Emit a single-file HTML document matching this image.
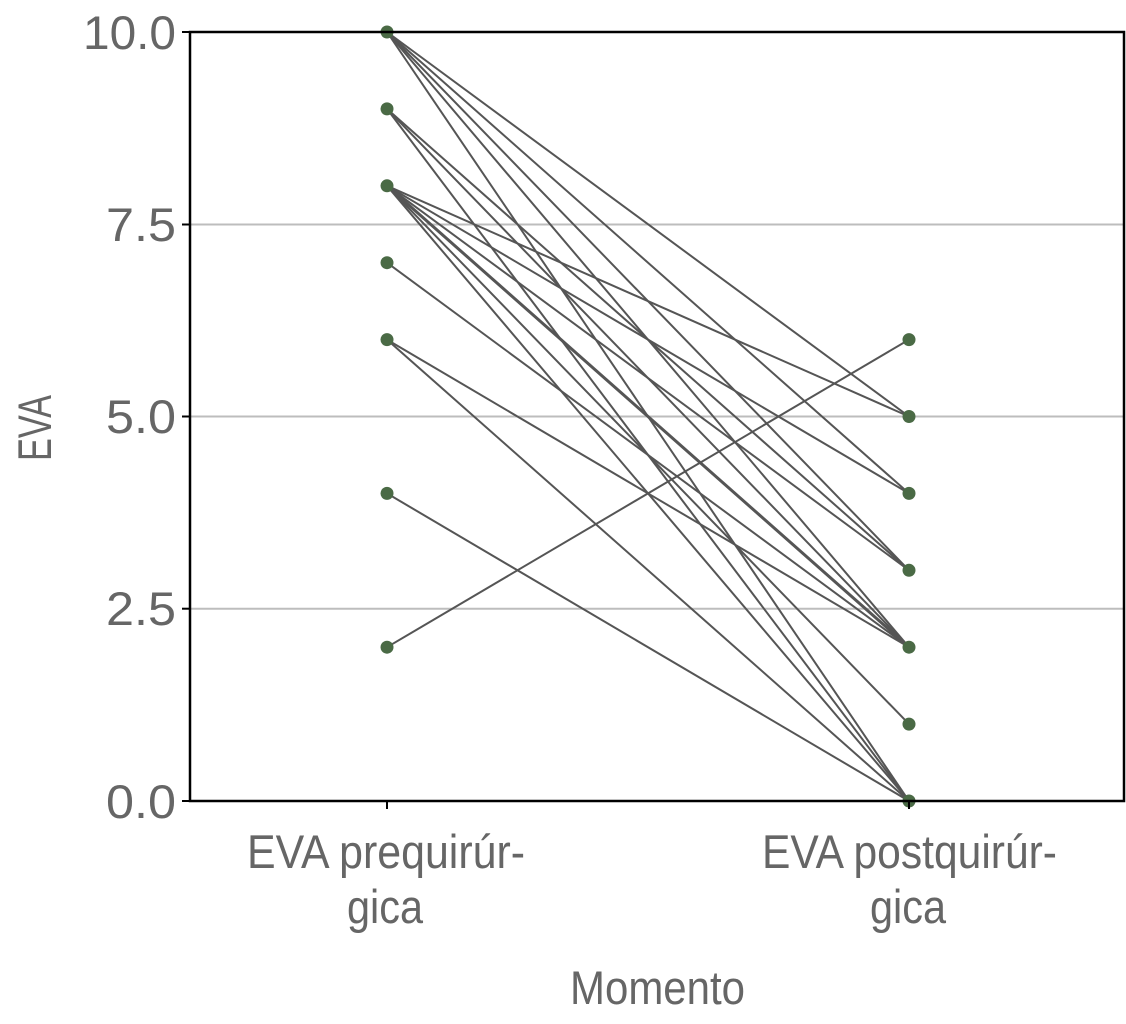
<!DOCTYPE html>
<html><head><meta charset="utf-8"><style>body{margin:0;background:#fff}svg{display:block}</style></head>
<body>
<svg width="1126" height="1024" xmlns="http://www.w3.org/2000/svg" font-family="'Liberation Sans Narrow','Liberation Sans',sans-serif" fill="#666">
<g stroke="#bdbdbd" stroke-width="2">
<line x1="190" x2="1124" y1="224.5" y2="224.5"/>
<line x1="190" x2="1124" y1="416.5" y2="416.5"/>
<line x1="190" x2="1124" y1="608.7" y2="608.7"/>
</g>
<g stroke="#555" stroke-width="2">
<line x1="387" y1="32" x2="909" y2="416.5"/>
<line x1="387" y1="32" x2="909" y2="493.4"/>
<line x1="387" y1="32" x2="909" y2="570.3"/>
<line x1="387" y1="32" x2="909" y2="647.2"/>
<line x1="387" y1="32" x2="909" y2="801"/>
<line x1="387" y1="108.9" x2="909" y2="570.3"/>
<line x1="387" y1="108.9" x2="909" y2="647.2"/>
<line x1="387" y1="108.9" x2="909" y2="801"/>
<line x1="387" y1="185.8" x2="909" y2="416.5"/>
<line x1="387" y1="185.8" x2="909" y2="493.4"/>
<line x1="387" y1="185.8" x2="909" y2="570.3"/>
<line x1="387" y1="185.8" x2="909" y2="647.2" stroke-width="3"/>
<line x1="387" y1="185.8" x2="909" y2="724.1"/>
<line x1="387" y1="185.8" x2="909" y2="801"/>
<line x1="387" y1="262.7" x2="909" y2="647.2"/>
<line x1="387" y1="339.6" x2="909" y2="647.2"/>
<line x1="387" y1="339.6" x2="909" y2="801"/>
<line x1="387" y1="493.4" x2="909" y2="801"/>
<line x1="387" y1="647.2" x2="909" y2="339.6"/>
</g>
<g fill="#4a6a45">
<circle cx="387" cy="32" r="6.5"/><circle cx="387" cy="108.9" r="6.5"/><circle cx="387" cy="185.8" r="6.5"/><circle cx="387" cy="262.7" r="6.5"/><circle cx="387" cy="339.6" r="6.5"/><circle cx="387" cy="493.4" r="6.5"/><circle cx="387" cy="647.2" r="6.5"/>
<circle cx="909" cy="339.6" r="6.5"/><circle cx="909" cy="416.5" r="6.5"/><circle cx="909" cy="493.4" r="6.5"/><circle cx="909" cy="570.3" r="6.5"/><circle cx="909" cy="647.2" r="6.5"/><circle cx="909" cy="724.1" r="6.5"/><circle cx="909" cy="801" r="6.5"/>
</g>
<rect x="190" y="32" width="934" height="769" fill="none" stroke="#000" stroke-width="2.5"/>
<g stroke="#000" stroke-width="2"><line x1="182" x2="190" y1="32" y2="32"/><line x1="182" x2="190" y1="224.5" y2="224.5"/><line x1="182" x2="190" y1="416.5" y2="416.5"/><line x1="182" x2="190" y1="608.7" y2="608.7"/><line x1="182" x2="190" y1="801" y2="801"/><line x1="387" x2="387" y1="801" y2="809"/><line x1="909" x2="909" y1="801" y2="809"/></g>
<g font-size="47" text-anchor="end">
<text x="176" y="49" textLength="93" lengthAdjust="spacingAndGlyphs">10.0</text>
<text x="176" y="241" textLength="70" lengthAdjust="spacingAndGlyphs">7.5</text>
<text x="176" y="433" textLength="70" lengthAdjust="spacingAndGlyphs">5.0</text>
<text x="176" y="625" textLength="70" lengthAdjust="spacingAndGlyphs">2.5</text>
<text x="176" y="818" textLength="70" lengthAdjust="spacingAndGlyphs">0.0</text>
</g>
<g font-size="47">
<text x="247" y="868" textLength="278" lengthAdjust="spacingAndGlyphs">EVA prequirúr-</text>
<text x="347" y="923" textLength="76" lengthAdjust="spacingAndGlyphs">gica</text>
<text x="762" y="868" textLength="295" lengthAdjust="spacingAndGlyphs">EVA postquirúr-</text>
<text x="870" y="923" textLength="76" lengthAdjust="spacingAndGlyphs">gica</text>
<text x="570" y="1004" textLength="175" lengthAdjust="spacingAndGlyphs">Momento</text>
<text transform="translate(51,461) rotate(-90)" textLength="66" lengthAdjust="spacingAndGlyphs">EVA</text>
</g>
</svg>
</body></html>
